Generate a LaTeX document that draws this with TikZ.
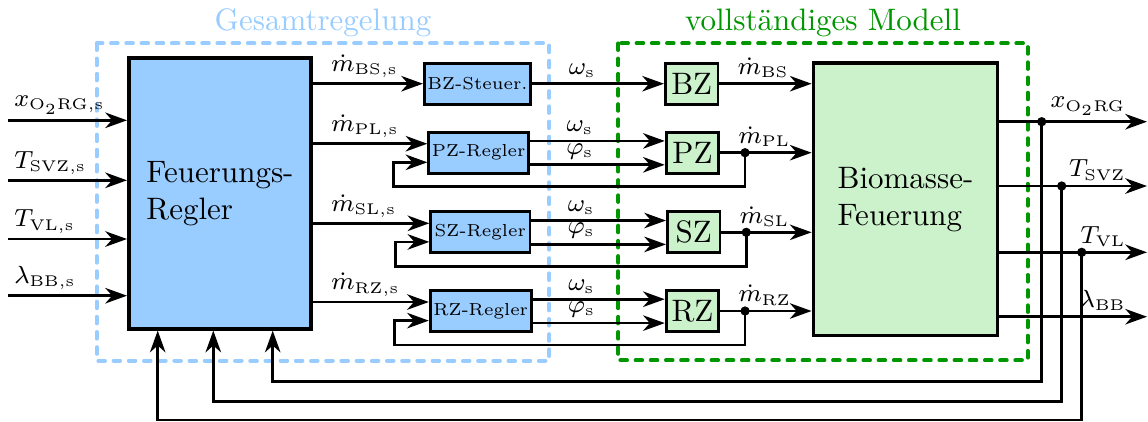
\documentclass[tikz,border=0pt]{standalone}
\usepackage{amsmath}
\usepackage{tikz}
\usetikzlibrary{arrows.meta}

\definecolor{hellblau}{RGB}{153,204,255}
\definecolor{hellgruen}{RGB}{204,242,204}
\definecolor{dunkelgruen}{RGB}{0,150,0}
\newcommand{\lblfont}{\fontsize{7.8}{9}\selectfont}
\newcommand{\kleinfont}{\fontsize{5.6}{7}\selectfont}

\begin{document}
\begin{tikzpicture}[x=0.3226pt,y=-0.3226pt,
	>={Stealth[length=7pt,width=5pt,inset=2.2pt]},
	verb/.style={->,line width=0.85pt},
	lbl/.style={font=\lblfont,inner sep=1.5pt},
	regler/.style={draw,line width=0.9pt,fill=hellblau,minimum width=32pt,minimum height=13.2pt,inner sep=1pt,font=\kleinfont},
	zone/.style={draw,line width=0.9pt,fill=hellgruen,minimum width=17pt,minimum height=13.2pt,inner sep=1pt},
	gross/.style={draw,line width=1.2pt,align=left},
	rahmen/.style={line width=1.2pt,dash pattern=on 2.2pt off 2.7pt,line cap=round},
	punkt/.style={circle,fill,inner sep=0pt,minimum size=3pt}]

	\useasboundingbox (0,0) rectangle (1148,421);

	% Rahmen
	\draw[rahmen,hellblau] (96.7,43.3) rectangle (549.3,360.7);
	\draw[rahmen,dunkelgruen] (618.3,43.3) rectangle (1027.7,360.3);
	\node[above,text=hellblau,inner sep=2pt] (tgr) at (323,43.3) {Gesamtregelung};
	\node[above,text=dunkelgruen,inner sep=2pt] (tvm) at (823,43.3) {vollständiges Modell};

	% Bloecke
	\node[gross,fill=hellblau,minimum width=58.8pt,minimum height=87.4pt] (fr) at (220,193.3) {Feuerungs-\\Regler};
	\node[gross,fill=hellgruen,minimum width=59.4pt,minimum height=88pt] (bf) at (905.5,199.2) {Biomasse-\\Feuerung};

	\node[regler] (bzs) at (477.5,83.7) {BZ-Steuer.};
	\node[regler] (pzr) at (478.7,152.7) {PZ-Regler};
	\node[regler] (szr) at (480.3,232.3) {SZ-Regler};
	\node[regler] (rzr) at (480.7,311) {RZ-Regler};

	\node[zone] (bz) at (691.7,83.7) {BZ};
	\node[zone] (pz) at (692.5,152.7) {PZ};
	\node[zone] (sz) at (693.7,232.3) {SZ};
	\node[zone] (rz) at (692.5,311) {RZ};

	% Sollwerte links
	\foreach \y/\t [count=\i] in {120.3/{$x_{\mathrm{O}_2\mathrm{RG,s}}$},180.3/{$T_{\mathrm{SVZ,s}}$},239/{$T_{\mathrm{VL,s}}$},295.7/{$\lambda_{\mathrm{BB,s}}$}} {
		\coordinate (ein\i) at (8.3,\y);
		\draw[verb] (ein\i) -- (ein\i -| fr.west) node[lbl,pos=0,above right] {\t};
	}

	% Bandzuteiler
	\draw[verb] (bzs.west -| fr.east) -- (bzs.west) node[lbl,pos=0,above right,xshift=4pt] {$\dot{m}_{\mathrm{BS,s}}$};
	\draw[verb] (bzs) -- (bz) node[lbl,pos=0.38,above] {$\omega_{\mathrm{s}}$};
	\draw[verb] (bz) -- (bz -| bf.west) node[lbl,pos=0,above right,xshift=4pt] {$\dot{m}_{\mathrm{BS}}$};

	% Primaer-, Sekundaer-, Rezi-Zone
	\foreach \r/\m in {pz/PL,sz/SL,rz/RZ} {
		\coordinate (\r-e1) at ([yshift=2.9pt]\r r.west);
		\coordinate (\r-e2) at ([yshift=-3.1pt]\r r.west);
		\coordinate (\r-a1) at ([yshift=3.8pt]\r r.east);
		\coordinate (\r-a2) at ([yshift=-3.9pt]\r r.east);
		\draw[verb] (\r-e1 -| fr.east) -- (\r-e1) node[lbl,pos=0,above right,xshift=4pt] {$\dot{m}_{\mathrm{\m,s}}$};
		\draw[verb] (\r-a1) -- (\r-a1 -| \r.west) node[lbl,pos=0.37,above] {$\omega_{\mathrm{s}}$};
		\draw[verb] (\r-a2) -- (\r-a2 -| \r.west) node[lbl,pos=0.37,above] {$\varphi_{\mathrm{s}}$};
		\draw[verb] (\r) -- (\r -| bf.west) node[lbl,pos=0,above right,xshift=4pt] {$\dot{m}_{\mathrm{\m}}$};
		\node[punkt] (\r-p) at ([xshift=8pt]\r.east) {};
		\draw[verb] (\r-p.center) -- ++(0,34) -| ([xshift=-11pt]\r-e2) -- (\r-e2);
	}

	% Ausgaenge rechts
	\foreach \y/\t [count=\i] in {121.7/{$x_{\mathrm{O}_2\mathrm{RG}}$},186/{$T_{\mathrm{SVZ}}$},252.3/{$T_{\mathrm{VL}}$},316.7/{$\lambda_{\mathrm{BB}}$}} {
		\coordinate (aus\i) at (1147,\y);
		\draw[verb] (aus\i -| bf.east) -- (aus\i) node[lbl,pos=1,above left,xshift=-5pt] {\t};
	}

	% Rueckfuehrung
	\foreach \i/\xp/\yb/\xr in {1/1041.7/381.7/272.7,2/1061.7/401.7/213.3,3/1081.7/420/157.7} {
		\coordinate (rx\i) at (\xp,0);
		\coordinate (fb\i) at (\xr,\yb);
		\node[punkt] (r\i) at (aus\i -| rx\i) {};
		\draw[verb] (r\i.center) |- (fb\i) -- (fb\i |- fr.south);
	}

\end{tikzpicture}
\end{document}
